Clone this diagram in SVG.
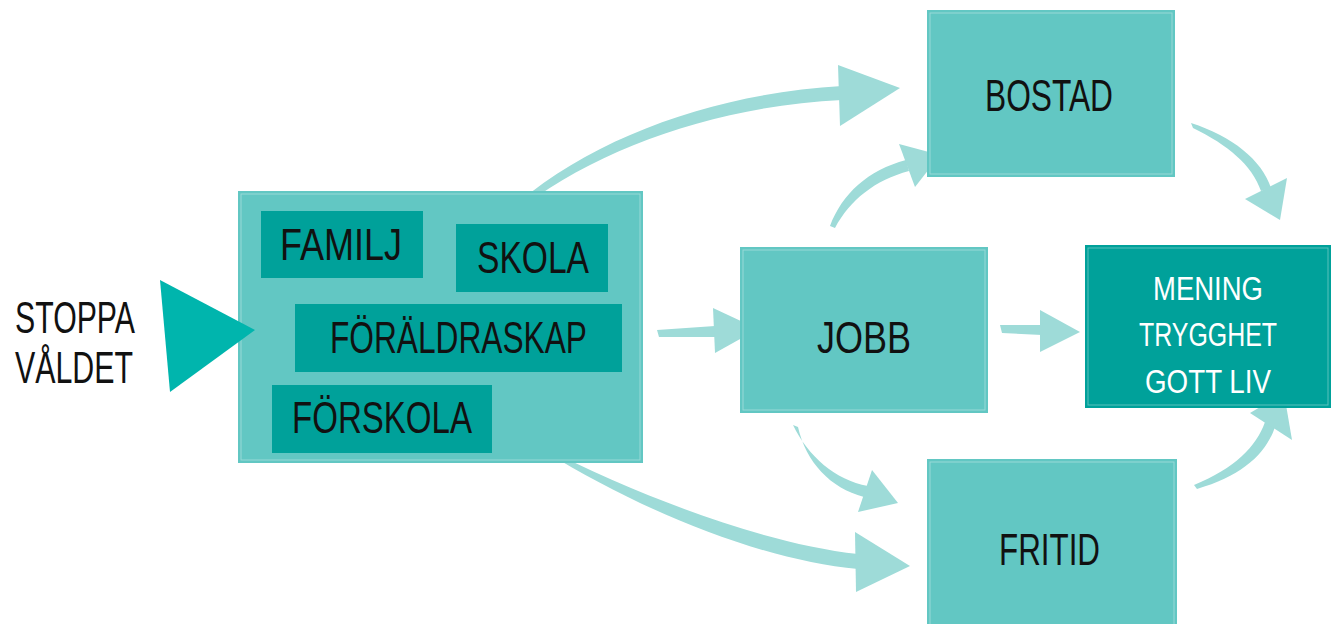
<svg xmlns="http://www.w3.org/2000/svg" width="1335" height="624" viewBox="0 0 1335 624">
  <style>
    .mid { fill: #62C7C3; }
    .dark { fill: #00A19A; }
    .edge { fill: none; stroke: #ffffff; stroke-width: 1; opacity: 0.35; }
    .lbl { font-family: "Liberation Sans", Arial, sans-serif; font-size: 44px; fill: #111111; }
    .wlbl { font-family: "Liberation Sans", Arial, sans-serif; font-size: 34px; fill: #ffffff; }
    .arr { fill: #9EDBD8; }
  </style>
  <rect width="1335" height="624" fill="#ffffff"/>

  <g id="connectors">
    <!-- big box -> BOSTAD -->
    <path class="arr" d="M519,202 C600,134 720,93 842,86 L842,100 C720,106 605,146 525,205 Z"/>
    <polygon class="arr" points="838,65 900,88 840,126"/>
    <!-- big box -> FRITID -->
    <path class="arr" d="M540,446 C640,496 760,543 858,554 L858,569 C760,560 640,510 546,452 Z"/>
    <polygon class="arr" points="855,532 910,566 856,592"/>
    <!-- big box -> JOBB -->
    <path class="arr" d="M657,330 L715,326 L715,337 L659,337 Z"/>
    <polygon class="arr" points="713,308 758,329 715,353"/>
    <!-- JOBB -> MENING -->
    <path class="arr" d="M1000,325 L1042,325 L1042,335 L1002,333 Z"/>
    <polygon class="arr" points="1040,310 1080,332 1040,352"/>
    <!-- JOBB -> BOSTAD -->
    <path class="arr" d="M830,226 C842,194 868,170 906,160 L909,171 C875,180 850,200 835,228 Z"/>
    <polygon class="arr" points="899,144 940,155 915,187"/>
    <!-- JOBB -> FRITID -->
    <path class="arr" d="M793,425 C808,456 835,480 868,486 L864,497 C830,488 806,462 798,427 Z"/>
    <polygon class="arr" points="872,470 898,503 858,512"/>
    <!-- BOSTAD -> MENING -->
    <path class="arr" d="M1191,123 C1232,136 1262,160 1271,188 L1261,191 C1252,165 1228,145 1193,128 Z"/>
    <polygon class="arr" points="1287,178 1245,199 1280,220"/>
    <!-- FRITID -> MENING -->
    <path class="arr" d="M1194,485 C1235,468 1256,447 1265,422 L1275,427 C1266,454 1242,476 1197,489 Z"/>
    <polygon class="arr" points="1250,413 1284,393 1292,440"/>
  </g>

  <g id="omraden">
    <rect class="mid" x="238" y="191" width="405" height="272"/>
    <rect class="edge" x="241" y="194" width="399" height="266"/>
  </g>

  <g id="stoppa">
    <polygon points="160,280 255,330 170,392" fill="#00B5AD"/>
    <text class="lbl" x="15" y="333" font-size="43" textLength="120" lengthAdjust="spacingAndGlyphs">STOPPA</text>
    <text class="lbl" x="15" y="383" font-size="42" textLength="118" lengthAdjust="spacingAndGlyphs">VÅLDET</text>
  </g>

  <g id="familj">
    <rect class="dark" x="261" y="211" width="162" height="67"/>
    <text class="lbl" x="280" y="260" font-size="45" textLength="122" lengthAdjust="spacingAndGlyphs">FAMILJ</text>
  </g>
  <g id="skola">
    <rect class="dark" x="456" y="224" width="152" height="68"/>
    <text class="lbl" x="477" y="273" font-size="45" textLength="112" lengthAdjust="spacingAndGlyphs">SKOLA</text>
  </g>
  <g id="foraldraskap">
    <rect class="dark" x="295" y="304" width="327" height="68"/>
    <text class="lbl" x="330" y="353" font-size="40" textLength="257" lengthAdjust="spacingAndGlyphs">FÖRÄLDRASKAP</text>
  </g>
  <g id="forskola">
    <rect class="dark" x="272" y="385" width="220" height="68"/>
    <text class="lbl" x="292" y="433" font-size="43" textLength="180" lengthAdjust="spacingAndGlyphs">FÖRSKOLA</text>
  </g>

  <g id="jobb">
    <rect class="mid" x="740" y="247" width="248" height="166"/>
    <rect class="edge" x="743" y="250" width="242" height="160"/>
    <text class="lbl" x="817" y="353" font-size="43" textLength="94" lengthAdjust="spacingAndGlyphs">JOBB</text>
  </g>

  <g id="bostad">
    <rect class="mid" x="927" y="10" width="248" height="167"/>
    <rect class="edge" x="930" y="13" width="242" height="161"/>
    <text class="lbl" x="985" y="111" font-size="44" textLength="128" lengthAdjust="spacingAndGlyphs">BOSTAD</text>
  </g>

  <g id="fritid">
    <rect class="mid" x="927" y="459" width="250" height="170"/>
    <rect class="edge" x="930" y="462" width="244" height="170"/>
    <text class="lbl" x="999" y="565" font-size="44" textLength="101" lengthAdjust="spacingAndGlyphs">FRITID</text>
  </g>

  <g id="mening">
    <rect class="dark" x="1085" y="245" width="246" height="163"/>
    <rect class="edge" x="1088" y="248" width="240" height="157"/>
    <text class="wlbl" x="1153" y="300" textLength="110" lengthAdjust="spacingAndGlyphs">MENING</text>
    <text class="wlbl" x="1139" y="346" textLength="138" lengthAdjust="spacingAndGlyphs">TRYGGHET</text>
    <text class="wlbl" x="1145" y="393" textLength="126" lengthAdjust="spacingAndGlyphs">GOTT LIV</text>
  </g>
</svg>
